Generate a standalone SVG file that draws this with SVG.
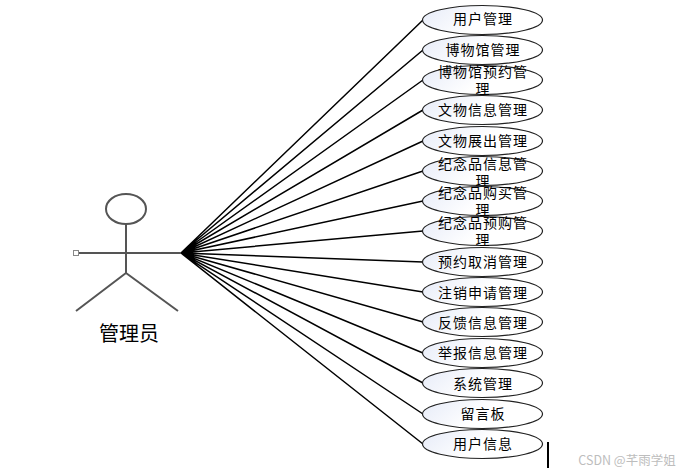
<svg xmlns="http://www.w3.org/2000/svg" width="682" height="475" viewBox="0 0 682 475">
<style>
text{font-family:"Noto Sans CJK SC","Liberation Sans",sans-serif;fill:#000;text-anchor:middle}
.l{font-size:14px;letter-spacing:1px}
.e{fill:url(#g);stroke:#222;stroke-width:1.2}
.c{fill:none;stroke:#000;stroke-width:1.5}
.a{fill:none;stroke:#555;stroke-width:2}
</style>
<defs><linearGradient id="g" x1="0" y1="0" x2="1" y2="0.3"><stop offset="0" stop-color="#e6ebf8"/><stop offset=".6" stop-color="#fff"/></linearGradient></defs>
<rect width="682" height="475" fill="#fff"/>
<g id="connectors" class="c">
<path d="M181 253L423 20M181 253L423 50M181 253L423 80M181 253L423 110M181 253L423 141M181 253L423 171M181 253L423 201M181 253L423 231M181 253L423 262M181 253L423 292M181 253L423 322M181 253L423 353M181 253L423 383M181 253L423 414M181 253L423 444"/>
</g>
<g id="actor">
<ellipse class="a" cx="126" cy="209" rx="20" ry="15"/>
<path class="a" d="M126 224V273M77 253H181M126 273L76 311M126 273L178 311"/>
<rect x="73.500" y="250.500" width="5" height="5" fill="#fff" stroke="#888"/>
<text x="129" y="341" font-size="20">管理员</text>
</g>
<g id="n1"><ellipse class="e" cx="482.500" cy="20" rx="60" ry="14.500"/><text class="l" x="483" y="24">用户管理</text></g>
<g id="n2"><ellipse class="e" cx="482.500" cy="50" rx="60" ry="14.500"/><text class="l" x="483" y="55">博物馆管理</text></g>
<g id="n3"><ellipse class="e" cx="482.500" cy="80" rx="60" ry="14.500"/><text class="l" x="483" y="77">博物馆预约管</text><text class="l" x="483" y="94">理</text></g>
<g id="n4"><ellipse class="e" cx="482.500" cy="110" rx="60" ry="14.500"/><text class="l" x="483" y="115">文物信息管理</text></g>
<g id="n5"><ellipse class="e" cx="482.500" cy="141" rx="60" ry="14.500"/><text class="l" x="483" y="146">文物展出管理</text></g>
<g id="n6"><ellipse class="e" cx="482.500" cy="171" rx="60" ry="14.500"/><text class="l" x="483" y="169">纪念品信息管</text><text class="l" x="483" y="186">理</text></g>
<g id="n7"><ellipse class="e" cx="482.500" cy="201" rx="60" ry="14.500"/><text class="l" x="483" y="198">纪念品购买管</text><text class="l" x="483" y="215">理</text></g>
<g id="n8"><ellipse class="e" cx="482.500" cy="231" rx="60" ry="14.500"/><text class="l" x="483" y="228">纪念品预购管</text><text class="l" x="483" y="245">理</text></g>
<g id="n9"><ellipse class="e" cx="482.500" cy="262" rx="60" ry="14.500"/><text class="l" x="483" y="267">预约取消管理</text></g>
<g id="n10"><ellipse class="e" cx="482.500" cy="292" rx="60" ry="14.500"/><text class="l" x="483" y="298">注销申请管理</text></g>
<g id="n11"><ellipse class="e" cx="482.500" cy="322" rx="60" ry="14.500"/><text class="l" x="483" y="328">反馈信息管理</text></g>
<g id="n12"><ellipse class="e" cx="482.500" cy="353" rx="60" ry="14.500"/><text class="l" x="483" y="358">举报信息管理</text></g>
<g id="n13"><ellipse class="e" cx="482.500" cy="383" rx="60" ry="14.500"/><text class="l" x="483" y="389">系统管理</text></g>
<g id="n14"><ellipse class="e" cx="482.500" cy="414" rx="60" ry="14.500"/><text class="l" x="483" y="419">留言板</text></g>
<g id="n15"><ellipse class="e" cx="482.500" cy="444" rx="60" ry="14.500"/><text class="l" x="483" y="449">用户信息</text></g>
<path d="M548 442V468" stroke="#000" stroke-width="2" fill="none"/>
<text x="627" y="465" font-size="12.500" style="fill:#bdbdbd">CSDN @芊雨学姐</text>
</svg>
